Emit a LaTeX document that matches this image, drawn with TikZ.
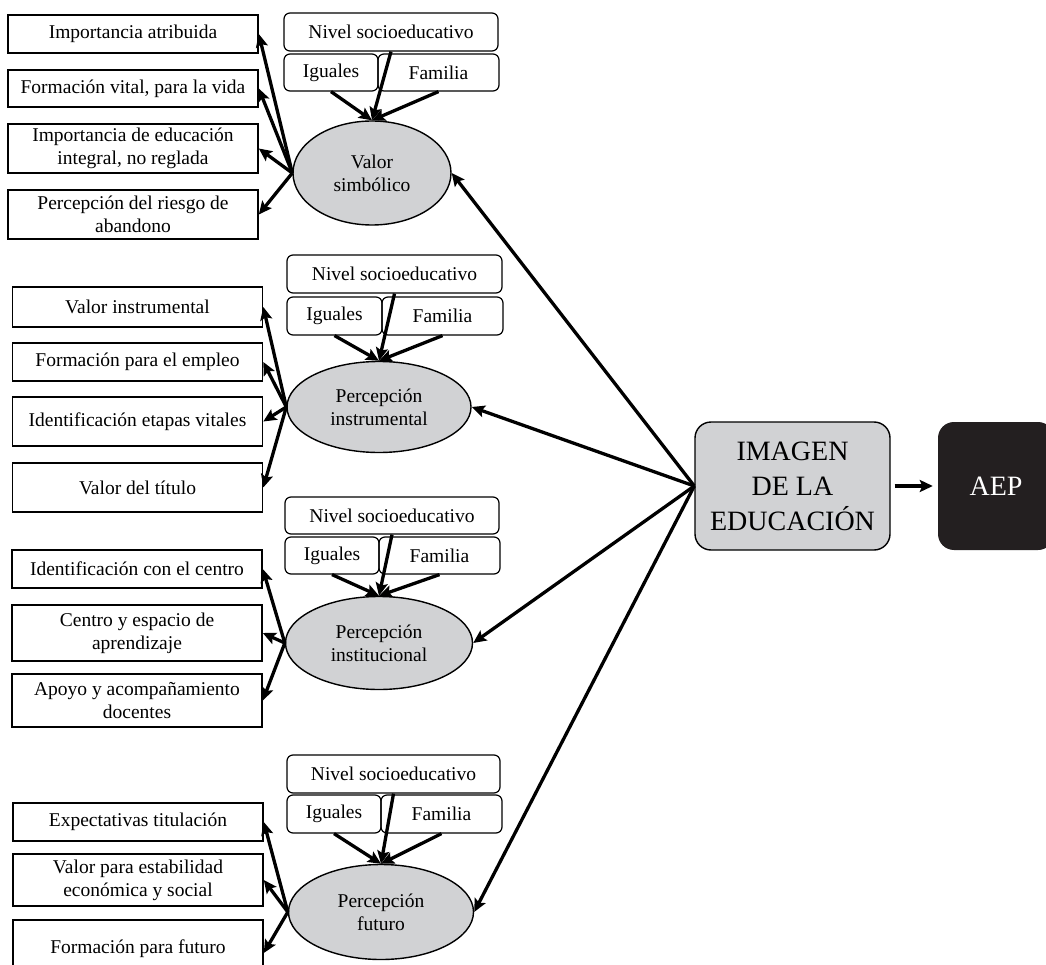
\documentclass[tikz,border=0pt]{standalone}
\usepackage{fontspec}
\setmainfont{Liberation Serif}
\usepackage{tikz}
\usetikzlibrary{shapes,shapes.geometric}
\usetikzlibrary{arrows.meta}
\definecolor{grisfactor}{RGB}{209,210,212}
\definecolor{negroaep}{RGB}{35,31,32}

\begin{document}
\begin{tikzpicture}[x=1pt,y=-1pt,
	texto/.style={font=\fontsize{19.5}{23}\selectfont},
	item/.style={texto,draw,line width=1.6pt,minimum width=250pt,inner sep=0pt,align=center},
	fuente/.style={texto,draw,line width=1.2pt,rounded corners=6pt,minimum height=37pt,inner sep=0pt,align=center},
	factor/.style={texto,ellipse,draw,line width=1.4pt,fill=grisfactor,inner sep=0pt,align=center},
	flecha/.style={line width=3.3pt,-{Stealth[length=13pt,width=12pt,inset=2.5pt]}}]
			\useasboundingbox (0,0) rectangle (1046,965);
			% valor simbolico
			\node[item,minimum height=38pt] (impA) at (133,34) {Importancia atribuida};
			\node[item,minimum height=37pt] (forV) at (133,88.5) {Formación vital, para la vida};
			\node[item,minimum height=49pt] (impE) at (133,148.5) {Importancia de educación\\integral, no reglada};
			\node[item,minimum height=49pt] (perR) at (133,214.5) {Percepción del riesgo de\\abandono};
			\node[fuente,minimum width=214pt,minimum height=38pt] (niv1) at (391,32) {Nivel socioeducativo};
			\node[fuente,minimum width=94pt] (igu1) at (331,72.5) {Iguales};
			\node[fuente,minimum width=121pt] (fam1) at (438.5,72.5) {Familia};
			\node[factor,minimum width=158pt,minimum height=104pt] (valS) at (372,173) {Valor\\simbólico};
			% percepcion instrumental
			\node[item,minimum height=40pt] (valI) at (137.5,307) {Valor instrumental};
			\node[item,minimum height=38pt] (forE) at (137.5,362) {Formación para el empleo};
			\node[item,minimum height=49pt] (ideE) at (137.5,421.5) {Identificación etapas vitales};
			\node[item,minimum height=49pt] (valT) at (137.5,487.5) {Valor del título};
			\node[fuente,minimum width=215pt,minimum height=38pt] (niv2) at (394.5,274) {Nivel socioeducativo};
			\node[fuente,minimum width=95pt,minimum height=38pt] (igu2) at (334.5,316) {Iguales};
			\node[fuente,minimum width=121pt,minimum height=38pt] (fam2) at (442.5,316) {Familia};
			\node[factor,minimum width=184pt,minimum height=91pt] (perI) at (379,407) {Percepción\\instrumental};
			% percepcion institucional
			\node[item,minimum height=38pt] (ideC) at (137,569) {Identificación con el centro};
			\node[item,minimum height=56pt] (cenA) at (137,633) {Centro y espacio de\\aprendizaje};
			\node[item,minimum height=53pt] (apoD) at (137,700.5) {Apoyo y acompañamiento\\docentes};
			\node[fuente,minimum width=214pt] (niv3) at (392,515.5) {Nivel socioeducativo};
			\node[fuente,minimum width=94pt] (igu3) at (332,555.5) {Iguales};
			\node[fuente,minimum width=121pt] (fam3) at (439.5,555.5) {Familia};
			\node[factor,minimum width=187pt,minimum height=93pt] (perC) at (379,643) {Percepción\\institucional};
			% percepcion futuro
			\node[item,minimum height=38pt] (expT) at (138,822) {Expectativas titulación};
			\node[item,minimum height=52pt] (valE) at (138,880) {Valor para estabilidad\\económica y social};
			\node[item,minimum height=58pt] (forF) at (138,949) {Formación para futuro};
			\node[fuente,minimum width=213pt,minimum height=38pt] (niv4) at (393.5,774) {Nivel socioeducativo};
			\node[fuente,minimum width=94pt,minimum height=38pt] (igu4) at (334,814) {Iguales};
			\node[fuente,minimum width=121pt,minimum height=38pt] (fam4) at (441.5,814) {Familia};
			\node[factor,minimum width=185pt,minimum height=95pt] (perF) at (381,912) {Percepción\\futuro};
			% imagen y AEP
			\node[draw,line width=1.4pt,fill=grisfactor,rounded corners=16pt,minimum width=195pt,minimum height=128pt,inner sep=0pt,align=center,font=\fontsize{28}{35}\selectfont] (img) at (792.5,486) {IMAGEN\\DE LA\\EDUCACIÓN};
			\node[fill=negroaep,text=white,rounded corners=16pt,minimum width=116pt,minimum height=128pt,inner sep=0pt,font=\fontsize{28}{35}\selectfont] (aep) at (996,486) {AEP};
			\draw[flecha] ([xshift=4pt]img.east) -- ([xshift=-5pt]aep.west);
			\draw[flecha] (img.west) -- (valS.east);
			\draw[flecha] (img.west) -- (perI.east);
			\draw[flecha] (img.west) -- (perC.east);
			\draw[flecha] (img.west) -- (perF.east);
			\draw[flecha] (valS.west) -- (impA.east);
			\draw[flecha] (valS.west) -- (forV.east);
			\draw[flecha] (valS.west) -- (impE.east);
			\draw[flecha] (valS.west) -- (perR.east);
			\draw[flecha] (niv1.south) -- (valS.north);
			\draw[flecha] (igu1.south) -- (valS.north);
			\draw[flecha] (fam1.south) -- (valS.north);
			\draw[flecha] (perI.west) -- (valI.east);
			\draw[flecha] (perI.west) -- (forE.east);
			\draw[flecha] (perI.west) -- (ideE.east);
			\draw[flecha] (perI.west) -- (valT.east);
			\draw[flecha] (niv2.south) -- (perI.north);
			\draw[flecha] (igu2.south) -- (perI.north);
			\draw[flecha] (fam2.south) -- (perI.north);
			\draw[flecha] (perC.west) -- (ideC.east);
			\draw[flecha] (perC.west) -- (cenA.east);
			\draw[flecha] (perC.west) -- (apoD.east);
			\draw[flecha] (niv3.south) -- (perC.north);
			\draw[flecha] (igu3.south) -- (perC.north);
			\draw[flecha] (fam3.south) -- (perC.north);
			\draw[flecha] (perF.west) -- (expT.east);
			\draw[flecha] (perF.west) -- (valE.east);
			\draw[flecha] (perF.west) -- ([yshift=-4pt]forF.east);
			\draw[flecha] (niv4.south) -- (perF.north);
			\draw[flecha] (igu4.south) -- (perF.north);
			\draw[flecha] (fam4.south) -- (perF.north);
		\end{tikzpicture}
\end{document}
